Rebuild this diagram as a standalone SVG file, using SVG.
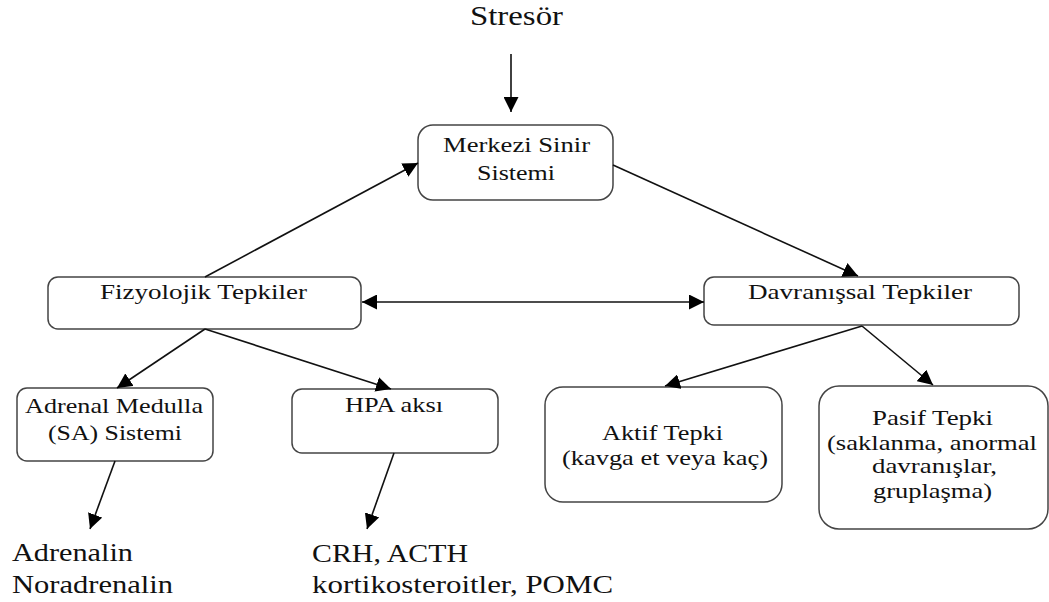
<svg xmlns="http://www.w3.org/2000/svg" width="1049" height="602" viewBox="0 0 1049 602">
<style>
.box{fill:#fff;stroke:#444;stroke-width:1.5}
text{font-family:"Liberation Serif","DejaVu Serif","Times New Roman",serif;fill:#111}
.t{font-size:21px;text-anchor:middle}
.big{font-size:26px}
.c{stroke:#111;stroke-width:1.6;fill:none;marker-end:url(#ah)}
</style>
<defs>
<marker id="ah" markerUnits="userSpaceOnUse" markerWidth="16" markerHeight="15" refX="15" refY="7.5" orient="auto-start-reverse">
<path d="M0,0 L15,7.5 L0,15 Z" fill="#000"/>
</marker>
</defs>
<rect width="1049" height="602" fill="#fff"/>
<g id="stressor"><text x="516.5" y="25" text-anchor="middle" font-size="27" textLength="93" lengthAdjust="spacingAndGlyphs">Stresör</text></g>
<g id="mss"><rect class="box" x="418" y="125" width="195" height="75" rx="15"/><text class="t" x="516.5" y="152" textLength="147" lengthAdjust="spacingAndGlyphs">Merkezi Sinir</text><text class="t" x="516" y="180" textLength="78" lengthAdjust="spacingAndGlyphs">Sistemi</text></g>
<g id="fiz"><rect class="box" x="48" y="277" width="313" height="52" rx="10"/><text class="t" x="203.5" y="299" textLength="207" lengthAdjust="spacingAndGlyphs">Fizyolojik Tepkiler</text></g>
<g id="dav"><rect class="box" x="704" y="277" width="315" height="48" rx="10"/><text class="t" x="860" y="299" textLength="224" lengthAdjust="spacingAndGlyphs">Davranışsal Tepkiler</text></g>
<g id="adrenal"><rect class="box" x="17" y="388" width="196" height="73" rx="10"/><text class="t" x="114" y="413" textLength="178" lengthAdjust="spacingAndGlyphs">Adrenal Medulla</text><text class="t" x="115" y="440" textLength="134" lengthAdjust="spacingAndGlyphs">(SA) Sistemi</text></g>
<g id="hpa"><rect class="box" x="292" y="389" width="206" height="64" rx="10"/><text class="t" x="394" y="412" textLength="98" lengthAdjust="spacingAndGlyphs">HPA aksı</text></g>
<g id="aktif"><rect class="box" x="545" y="387" width="237" height="115" rx="18"/><text class="t" x="662.5" y="440" textLength="121" lengthAdjust="spacingAndGlyphs">Aktif Tepki</text><text class="t" x="665" y="465" textLength="206" lengthAdjust="spacingAndGlyphs">(kavga et veya kaç)</text></g>
<g id="pasif"><rect class="box" x="819" y="386" width="229" height="143" rx="20"/><text class="t" x="932.5" y="425" textLength="121" lengthAdjust="spacingAndGlyphs">Pasif Tepki</text><text class="t" x="932" y="450" textLength="210" lengthAdjust="spacingAndGlyphs">(saklanma, anormal</text><text class="t" x="934.5" y="473" textLength="125" lengthAdjust="spacingAndGlyphs">davranışlar,</text><text class="t" x="932.5" y="498" textLength="119" lengthAdjust="spacingAndGlyphs">gruplaşma)</text></g>
<g id="out1"><text class="big" x="12" y="561" textLength="121" lengthAdjust="spacingAndGlyphs">Adrenalin</text><text class="big" x="12" y="593" textLength="161" lengthAdjust="spacingAndGlyphs">Noradrenalin</text></g>
<g id="out2"><text class="big" x="312" y="562" textLength="156" lengthAdjust="spacingAndGlyphs">CRH, ACTH</text><text class="big" x="312" y="593" textLength="301" lengthAdjust="spacingAndGlyphs">kortikosteroitler, POMC</text></g>
<g id="connectors">
<line class="c" x1="511" y1="54" x2="511" y2="112"/>
<line class="c" x1="205" y1="277" x2="418" y2="163"/>
<line class="c" x1="613" y1="165" x2="858" y2="276"/>
<line class="c" x1="362" y1="302" x2="704" y2="302" style="marker-start:url(#ah)"/>
<line class="c" x1="205" y1="329" x2="117" y2="388"/>
<line class="c" x1="205" y1="329" x2="391" y2="389"/>
<line class="c" x1="862" y1="326" x2="665" y2="386"/>
<line class="c" x1="862" y1="326" x2="933" y2="385"/>
<line class="c" x1="115" y1="461" x2="90" y2="529"/>
<line class="c" x1="394" y1="453" x2="367" y2="529"/>
</g>
</svg>
